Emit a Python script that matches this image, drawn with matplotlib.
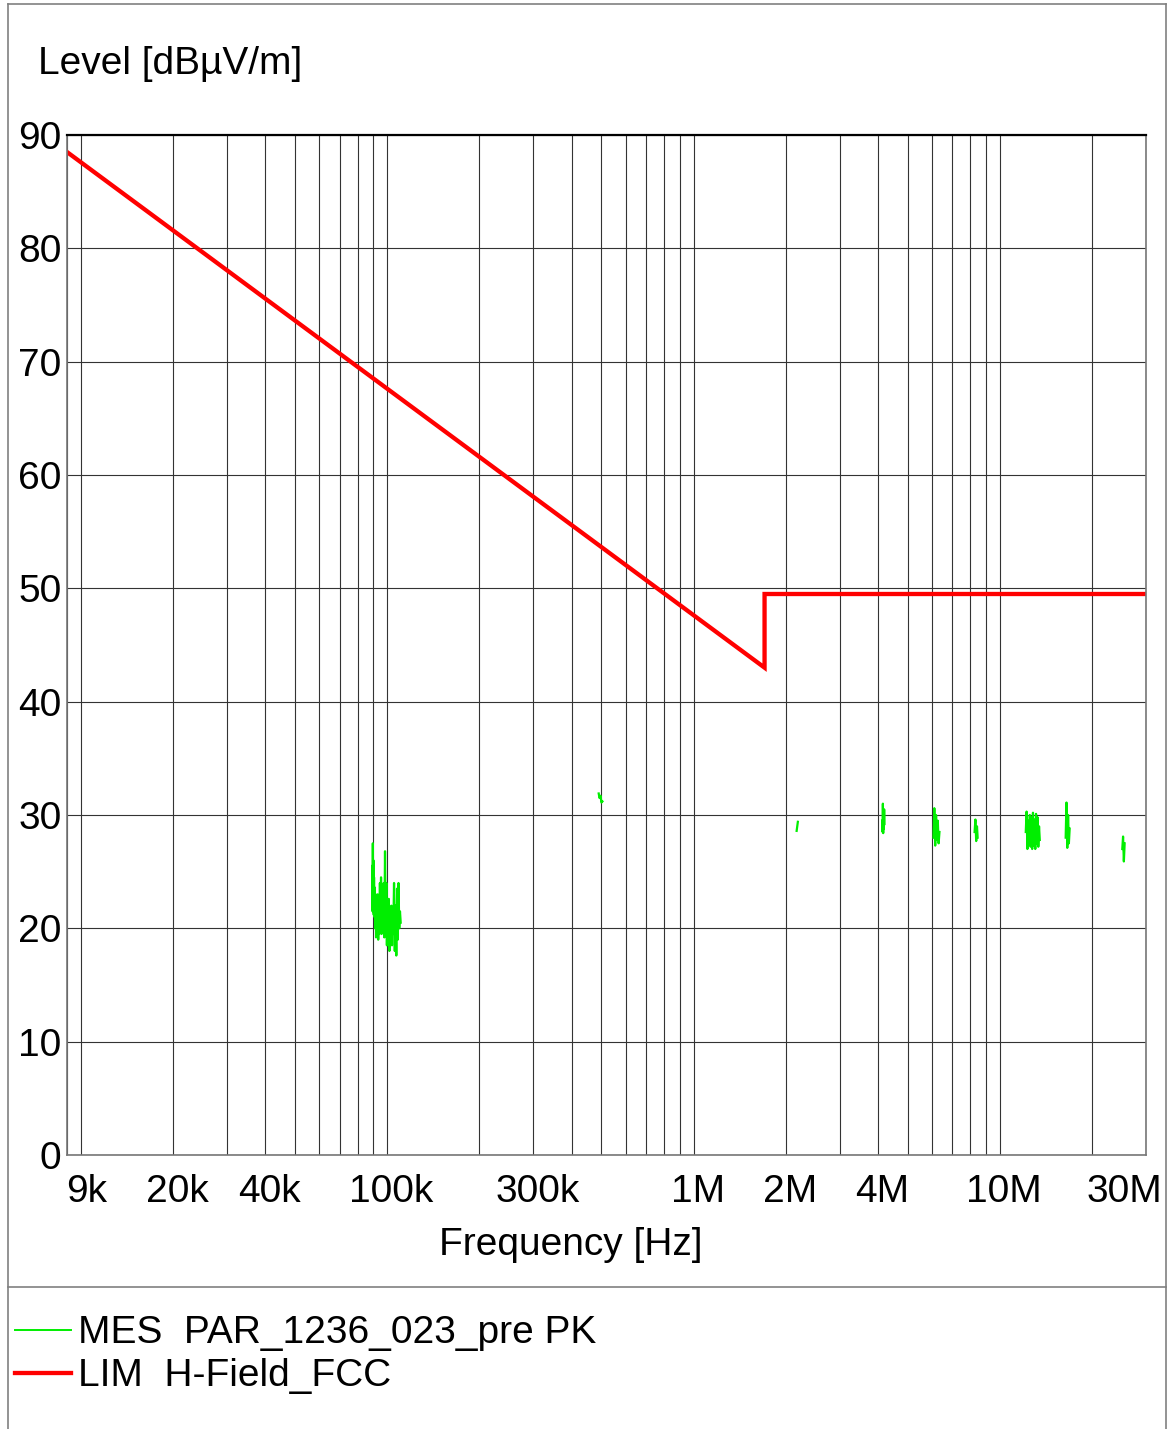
#EMI scan plot - H-field pre-scan vs FCC limit
import numpy as np
import matplotlib.pyplot as plt
import matplotlib.transforms as mtransforms
from matplotlib.lines import Line2D

plt.rcParams['font.family'] = ['Liberation Sans', 'DejaVu Sans']

#limit line (FCC H-field), freq in Hz, level in dBuV/m
lim_freq = [9e3, 1.705e6, 1.705e6, 30e6]
lim_level = [88.5, 43.0, 49.5, 49.5]

#measured peak trace - only the bits that show above 0 dB, freq in kHz
mes_c1_f = [89.3, 89.5, 89.7, 89.9, 90.1, 90.3, 90.5, 90.8, 91.0, 91.3, 91.6, 91.9, 92.2, 92.6, 93.0, 93.4, 93.8,
            94.2, 94.6, 95.0, 95.4, 95.8, 96.3, 96.8, 97.3, 97.8, 98.3, 98.8, 99.3, 99.7, 100.1, 100.6, 101.1, 101.6,
            102.1, 102.6, 103.1, 103.6, 104.1, 104.6, 105.2, 105.8, 106.4, 107.0, 107.6, 108.2, 108.8, 109.4, 110.0, 110.6]
mes_c1_l = [25.5, 21.5, 27.5, 22.0, 26.0, 21.2, 24.5, 21.0, 23.6, 20.0, 23.0, 19.2, 22.5, 20.5, 23.0, 19.0, 22.0,
            19.5, 24.0, 20.0, 24.5, 19.5, 23.0, 20.5, 24.0, 19.2, 26.8, 20.0, 24.0, 18.5, 22.5, 20.0, 22.6, 18.0,
            21.5, 19.0, 22.0, 18.5, 21.0, 19.5, 24.0, 18.0, 22.0, 17.6, 23.5, 19.0, 24.0, 20.0, 21.5, 20.5]
mes_c2_f = [490, 493, 497, 500, 504]
mes_c2_l = [31.9, 31.5, 31.7, 31.1, 31.2]
mes_c3_f = [2170, 2180, 2190]
mes_c3_l = [28.6, 29.0, 29.4]
mes_c4_f = [4130, 4140, 4150, 4160, 4170, 4180, 4190, 4200]
mes_c4_l = [29.5, 28.5, 31.0, 28.4, 30.0, 28.8, 30.5, 29.2]
mes_c5_f = [6070, 6110, 6150, 6190, 6230, 6270, 6310, 6350]
mes_c5_l = [28.0, 30.6, 27.3, 30.0, 27.8, 29.5, 27.5, 28.5]
mes_c6_f = [8270, 8320, 8370, 8420, 8460]
mes_c6_l = [28.5, 29.6, 27.7, 29.0, 28.0]
mes_c7_f = [12150, 12225, 12300, 12375, 12450, 12525, 12600, 12675, 12750, 12825,
            12900, 12975, 13050, 13125, 13200, 13275, 13350, 13425, 13500]
mes_c7_l = [28.5, 30.3, 27.0, 29.5, 27.4, 30.0, 27.2, 29.8, 27.0, 30.2,
            27.3, 29.6, 27.0, 30.1, 27.5, 29.8, 27.2, 29.0, 27.8]
mes_c8_f = [16400, 16500, 16600, 16700, 16800, 16900]
mes_c8_l = [28.0, 31.1, 27.1, 30.0, 27.5, 28.8]
mes_c9_f = [25100, 25250, 25400, 25550]
mes_c9_l = [27.0, 28.1, 25.9, 27.5]

tick_freq = [9e3, 2e4, 4e4, 1e5, 3e5, 1e6, 2e6, 4e6, 1e7, 3e7]
tick_labels = ["9k", "20k", "40k", "100k", "300k", "1M", "2M", "4M", "10M", "30M"]
y_ticks = list(range(0, 91, 10))

#join the clusters with NaN gaps
clusters = [(mes_c1_f, mes_c1_l), (mes_c2_f, mes_c2_l), (mes_c3_f, mes_c3_l), (mes_c4_f, mes_c4_l),
            (mes_c5_f, mes_c5_l), (mes_c6_f, mes_c6_l), (mes_c7_f, mes_c7_l), (mes_c8_f, mes_c8_l),
            (mes_c9_f, mes_c9_l)]
mes_f, mes_l = [], []
for f, l in clusters:
    mes_f += [x * 1e3 for x in f] + [np.nan]
    mes_l += list(l) + [np.nan]

W, H = 1171, 1429
fig = plt.figure(figsize=(W / 100, H / 100), dpi=100)
ax = fig.add_axes([67 / W, 1 - 1155 / H, (1146 - 67) / W, (1155 - 135) / H])

ax.plot(mes_f, mes_l, color="#00ee00", lw=1.6)
ax.plot(lim_freq, lim_level, color="#ff0000", lw=3.1, solid_joinstyle="miter")

ax.set_xscale("log")
ax.set_xlim(9e3, 30e6)
ax.set_ylim(0, 90)

#grid at every 1..9 x decade
grid_freq = [m * 10 ** e for e in range(4, 8) for m in range(1, 10) if 9e3 < m * 10 ** e < 30e6]
ax.set_xticks(grid_freq, minor=True)
ax.set_xticks(tick_freq)
ax.set_xticklabels(tick_labels, fontsize=28)
ax.set_yticks(y_ticks)
ax.set_yticklabels([str(v) for v in y_ticks], fontsize=28)
ax.xaxis.set_minor_formatter(plt.NullFormatter())
ax.tick_params(which="both", length=0)
ax.tick_params(axis="x", pad=14)
ax.tick_params(axis="y", pad=4)
ax.grid(which="both", color="#333333", lw=0.8)

#shift x labels a bit, pull the end ones inside
labels = ax.get_xticklabels()
for i, lab in enumerate(labels):
    dx = 4
    if i == 0:
        dx = 20
    elif i == len(labels) - 1:
        dx = -22
    lab.set_transform(lab.get_transform() + mtransforms.ScaledTranslation(dx / 100, 0, fig.dpi_scale_trans))

for s in ["left", "right", "bottom"]:
    ax.spines[s].set_color("#777777")
    ax.spines[s].set_linewidth(1.2)
ax.spines["top"].set_color("black")
ax.spines["top"].set_linewidth(1.6)

fig.text(38 / W, 1 - 64 / H, "Level [dBµV/m]", fontsize=28, ha="left", va="center")
fig.text(571 / W, 1 - 1245 / H, "Frequency [Hz]", fontsize=28, ha="center", va="center")

#outer frame and legend separator
frame_col = "#808080"
fig.add_artist(Line2D([8 / W, 8 / W], [0, 1 - 4 / H], color=frame_col, lw=1.2))
fig.add_artist(Line2D([1166 / W, 1166 / W], [0, 1 - 4 / H], color=frame_col, lw=1.2))
fig.add_artist(Line2D([8 / W, 1166 / W], [1 - 4 / H, 1 - 4 / H], color=frame_col, lw=1.2))
fig.add_artist(Line2D([8 / W, 1166 / W], [1 - 1287 / H, 1 - 1287 / H], color=frame_col, lw=1.2))

#legend drawn by hand
fig.add_artist(Line2D([15 / W, 71 / W], [1 - 1330 / H] * 2, color="#00ee00", lw=1.4))
fig.add_artist(Line2D([15 / W, 71 / W], [1 - 1373 / H] * 2, color="#ff0000", lw=3.1))
fig.text(78 / W, 1 - 1333 / H, "MES  PAR_1236_023_pre PK", fontsize=28, ha="left", va="center")
fig.text(78 / W, 1 - 1376 / H, "LIM  H-Field_FCC", fontsize=28, ha="left", va="center")

fig.savefig("out.png", dpi=100)
